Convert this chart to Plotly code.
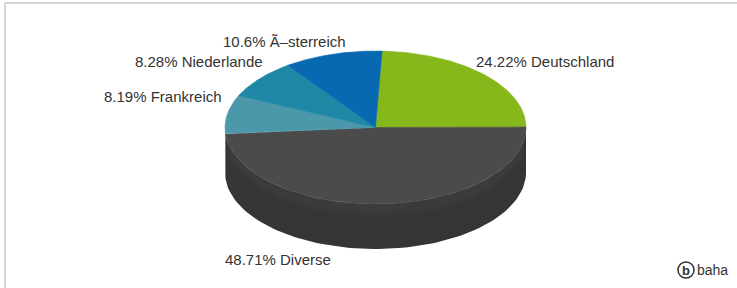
import numpy as np
import plotly.graph_objects as go

# ---- data ----
categories = ["Deutschland", "Diverse", "Frankreich", "Niederlande", "Ã–sterreich"]
shares = [24.22, 48.71, 8.19, 8.28, 10.6]
top_colors = ["#86b71b", "#4b4b4b", "#4a98a9", "#1f88a6", "#0868b2"]
side_colors = ["#5f8313", "#353535", "#346b77", "#165f74", "#064a7d"]

# ---- geometry (pixel space) ----
W, H = 737, 288
cx, cy = 375.5, 127.5
rx, ry = 150.5, 76.5
depth = 45
start_deg = 2.5

# label anchors (layout only)
label_pos = {
    "Deutschland": (474, 61, "left"),
    "Diverse": (223, 259, "left"),
    "Frankreich": (224, 96, "right"),
    "Niederlande": (265, 61, "right"),
    "Ã–sterreich": (348, 41, "right"),
}
FONT = "Liberation Sans, Arial, sans-serif"


def ell(theta_deg, dy=0.0):
    t = np.radians(theta_deg)
    return cx + rx * np.sin(t), cy - ry * np.cos(t) + dy


fig = go.Figure()

bounds = []
a = start_deg
for v in shares:
    b = a + v * 3.6
    bounds.append((a, b))
    a = b

# side walls (front half: 90..270 deg)
for (a, b), col in zip(bounds, side_colors):
    for off in (0, 360, -360):
        lo, hi = max(a + off, 90), min(b + off, 270)
        if hi > lo:
            th = np.linspace(lo, hi, 80)
            xt, yt = ell(th)
            xb, yb = ell(th[::-1], depth)
            fig.add_trace(go.Scatter(
                x=np.concatenate([xt, xb]), y=np.concatenate([yt, yb]),
                fill="toself", fillcolor=col, mode="lines",
                line=dict(width=0, color=col), hoverinfo="skip", showlegend=False))

# subtle lighter glow on front of the side
for k, alpha in [(3, 0.10), (6, 0.08), (9, 0.06)]:
    th = np.linspace(100, 260, 120)
    xt, yt = ell(th, 0)
    xb, yb = ell(th[::-1], k + 6)
    fig.add_trace(go.Scatter(
        x=np.concatenate([xt, xb]), y=np.concatenate([yt, yb]),
        fill="toself", fillcolor=f"rgba(90,90,90,{alpha})", mode="lines",
        line=dict(width=0), hoverinfo="skip", showlegend=False))

# top faces
for (a, b), col, name in zip(bounds, top_colors, categories):
    th = np.linspace(a, b, 120)
    xs, ys = ell(th)
    fig.add_trace(go.Scatter(
        x=np.concatenate([[cx], xs, [cx]]), y=np.concatenate([[cy], ys, [cy]]),
        fill="toself", fillcolor=col, mode="lines",
        line=dict(width=0.6, color=col), hoverinfo="skip", showlegend=False, name=name))

# labels
for name, v in zip(categories, shares):
    x, y, anc = label_pos[name]
    fig.add_annotation(x=x, y=y, text=f"{v}% {name}", showarrow=False,
                       xanchor=anc, yanchor="middle",
                       font=dict(family=FONT, size=15, color="#333333"))

# logo
fig.add_shape(type="circle", x0=678, x1=694, y0=262, y1=278,
              line=dict(color="#333333", width=1.5))
fig.add_annotation(x=686, y=270, text="<b>b</b>", showarrow=False, xanchor="center", yanchor="middle",
                   font=dict(family=FONT, size=13, color="#333333"))
fig.add_annotation(x=695, y=270, text="baha", showarrow=False, xanchor="left", yanchor="middle",
                   font=dict(family=FONT, size=14, color="#333333"))

# frame
fig.add_shape(type="line", x0=5, x1=W + 5, y0=3, y1=3, line=dict(color="#c8c8c8", width=1.5))
fig.add_shape(type="line", x0=5, x1=5, y0=3, y1=H + 5, line=dict(color="#c8c8c8", width=1.5))

fig.update_layout(
    width=W, height=H, margin=dict(l=0, r=0, t=0, b=0),
    paper_bgcolor="white", plot_bgcolor="white",
    xaxis=dict(range=[0, W], visible=False, fixedrange=True),
    yaxis=dict(range=[H, 0], visible=False, fixedrange=True),
    showlegend=False,
)
fig.write_html("out.html", config={"displayModeBar": False, "staticPlot": True},
               post_script="document.body.style.margin='0';document.body.style.overflow='hidden';")
